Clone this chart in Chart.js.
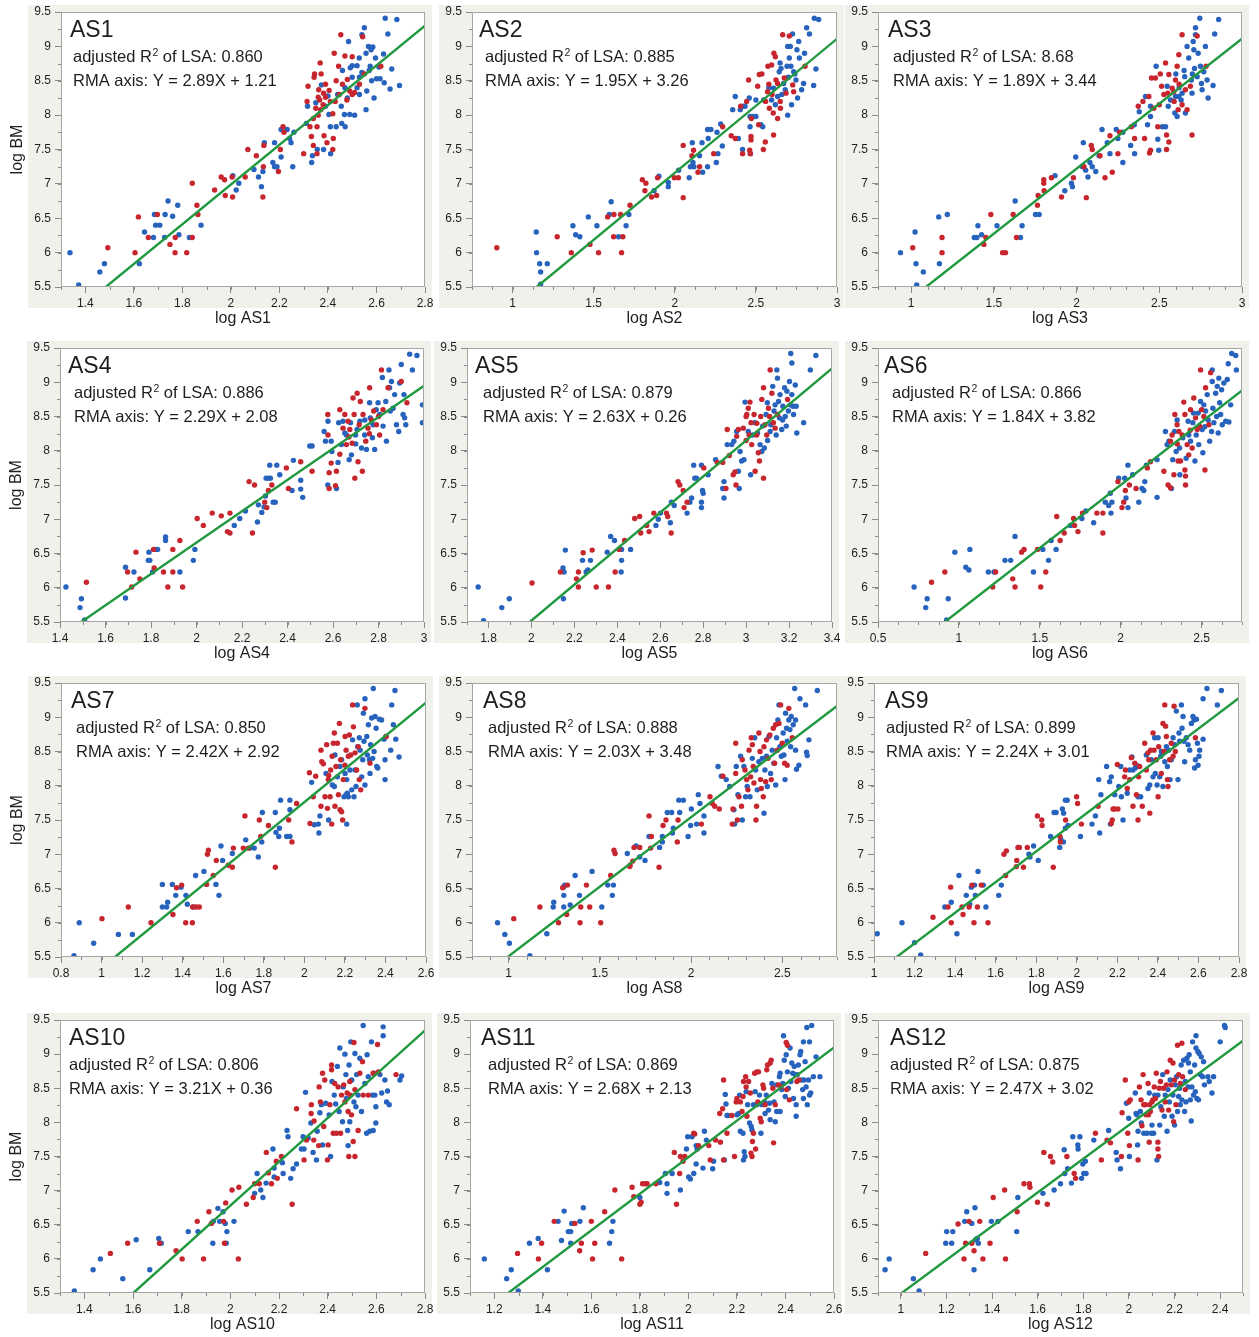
<!DOCTYPE html>
<html>
<head>
<meta charset="utf-8">
<script src="https://cdn.jsdelivr.net/npm/chart.js@4.4.1/dist/chart.umd.min.js"></script>
<title>log BM vs log AS1-AS12</title>
<style>
  body { margin: 0; background: #fff; }
  #page { position: relative; width: 1259px; height: 1337px; overflow: hidden; }
  #page canvas { position: absolute; }
</style>
</head>
<body>
<div id="page"></div>
<script>
// ---- data: [log AS, log BM] pairs, red and blue groups per panel ----
var as1Red = [[1.493,6.07],[1.605,6.0],[1.619,6.52],[1.66,6.22],[1.697,6.555],[1.749,6.12],[1.771,6.22],[1.77,6.0],[1.818,6.0],[1.841,6.22],[1.841,7.01],[1.86,6.69],[1.864,6.555],[1.933,6.91],[1.96,7.1],[1.974,7.06],[1.977,6.83],[2.007,6.81],[2.005,7.1],[2.059,7.1],[2.07,7.5],[2.105,7.41],[2.132,6.81],[2.134,7.25],[2.136,7.56],[2.196,7.18],[2.204,7.5],[2.215,7.83],[2.219,7.75],[2.3,7.44],[2.314,8.2],[2.318,8.42],[2.326,7.83],[2.332,7.69],[2.34,7.56],[2.34,7.95],[2.343,8.55],[2.345,8.6],[2.355,7.83],[2.355,7.44],[2.36,8.26],[2.362,8.37],[2.368,8.76],[2.37,8.08],[2.372,8.6],[2.366,8.22],[2.382,8.32],[2.384,7.7],[2.396,7.6],[2.39,8.26],[2.405,8.36],[2.422,7.66],[2.42,7.5],[2.434,8.5],[2.426,8.9],[2.444,8.71],[2.453,9.17],[2.447,8.3],[2.47,8.86],[2.48,8.52],[2.478,8.22],[2.5,8.3],[2.5,8.85],[2.51,8.33],[2.543,9.14],[2.55,8.6],[2.618,8.71],[2.35,8.1],[2.38,8.15],[2.41,8.2],[2.36,8.0],[2.39,8.45],[2.46,8.45],[2.43,8.2],[2.42,8.02],[2.49,8.35],[2.53,8.45]];
var as1Blue = [[1.337,6.0],[1.373,5.53],[1.46,5.72],[1.479,5.84],[1.623,5.84],[1.644,6.3],[1.681,6.22],[1.685,6.555],[1.69,6.4],[1.707,6.4],[1.727,6.22],[1.729,6.555],[1.741,6.75],[1.76,6.53],[1.781,6.69],[1.786,6.26],[1.829,6.22],[1.877,6.4],[2.008,7.12],[2.022,6.91],[2.033,7.01],[2.095,7.21],[2.114,7.1],[2.126,6.96],[2.132,7.18],[2.138,7.6],[2.173,7.31],[2.18,7.6],[2.18,7.25],[2.19,7.25],[2.207,7.39],[2.207,7.79],[2.232,7.79],[2.242,7.66],[2.248,7.6],[2.255,7.25],[2.26,7.75],[2.311,7.88],[2.316,8.13],[2.333,7.31],[2.336,7.41],[2.356,7.5],[2.35,8.18],[2.373,8.44],[2.382,7.5],[2.39,8.13],[2.404,8.01],[2.41,7.83],[2.411,7.44],[2.4,8.28],[2.434,7.83],[2.455,8.13],[2.457,7.88],[2.471,7.83],[2.468,8.01],[2.485,9.07],[2.492,8.69],[2.49,8.01],[2.5,8.72],[2.51,8.0],[2.52,8.72],[2.529,8.83],[2.53,8.55],[2.54,9.17],[2.55,9.27],[2.557,8.9],[2.557,8.08],[2.56,8.35],[2.567,9.0],[2.574,8.71],[2.578,8.95],[2.585,8.99],[2.59,8.25],[2.596,8.83],[2.6,8.53],[2.615,8.53],[2.629,8.89],[2.632,8.47],[2.636,9.41],[2.647,9.18],[2.656,8.38],[2.663,8.67],[2.684,9.39],[2.695,8.43],[2.47,8.4],[2.5,8.55],[2.52,8.4],[2.54,8.62],[2.58,8.5],[2.46,8.65],[2.44,8.3],[2.48,8.25],[2.53,8.3],[2.57,8.65],[2.61,8.7]];

var as2Red = [[0.903,6.07],[1.275,6.23],[1.362,6.0],[1.477,6.12],[1.53,6.0],[1.586,6.52],[1.625,6.555],[1.623,6.23],[1.666,6.555],[1.672,6.0],[1.68,6.23],[1.724,6.69],[1.8,7.06],[1.816,6.9],[1.822,7.01],[1.857,6.81],[1.888,6.83],[1.894,7.09],[1.997,7.09],[2.022,7.09],[2.052,6.8],[2.052,7.56],[2.106,7.41],[2.116,7.49],[2.143,7.17],[2.153,7.25],[2.24,7.44],[2.295,7.83],[2.348,7.7],[2.373,7.66],[2.406,8.13],[2.418,7.44],[2.443,8.2],[2.455,8.51],[2.472,7.95],[2.47,7.69],[2.47,7.64],[2.462,7.49],[2.466,7.44],[2.511,8.42],[2.517,7.86],[2.521,8.59],[2.537,8.6],[2.546,7.5],[2.558,7.61],[2.572,8.34],[2.574,8.71],[2.583,8.1],[2.597,8.73],[2.607,8.03],[2.609,7.71],[2.611,8.9],[2.62,8.85],[2.624,8.51],[2.634,8.46],[2.634,7.95],[2.651,8.1],[2.665,9.17],[2.675,8.54],[2.686,8.32],[2.706,9.15],[2.727,8.44],[2.733,8.34],[2.803,8.71],[2.6,8.3],[2.58,8.45],[2.65,8.2],[2.56,8.2]];
var as2Blue = [[1.146,6.3],[1.148,6.0],[1.167,5.84],[1.173,5.72],[1.214,5.84],[1.173,5.54],[1.372,6.39],[1.389,6.26],[1.415,6.23],[1.467,6.52],[1.52,6.39],[1.608,6.74],[1.596,6.555],[1.654,6.23],[1.7,6.39],[1.717,6.555],[1.872,6.9],[1.902,7.11],[1.96,7.02],[1.96,6.96],[2.024,7.2],[2.089,7.09],[2.096,7.25],[2.108,7.6],[2.112,7.31],[2.118,7.25],[2.153,7.41],[2.172,7.17],[2.168,7.6],[2.202,7.25],[2.206,7.66],[2.202,7.79],[2.223,7.79],[2.256,7.31],[2.266,7.44],[2.26,7.75],[2.283,7.87],[2.293,7.55],[2.357,8.08],[2.373,8.27],[2.392,7.66],[2.404,8.08],[2.422,8.13],[2.433,8.13],[2.418,7.5],[2.459,8.25],[2.464,7.98],[2.464,7.83],[2.466,7.44],[2.478,7.98],[2.5,7.98],[2.5,8.22],[2.531,7.86],[2.542,7.83],[2.548,8.22],[2.597,8.22],[2.609,8.39],[2.634,8.27],[2.644,8.63],[2.649,8.76],[2.655,8.68],[2.671,8.46],[2.681,8.37],[2.692,8.71],[2.696,8.0],[2.696,9.0],[2.712,9.0],[2.706,8.83],[2.716,8.71],[2.72,8.15],[2.733,8.63],[2.726,9.18],[2.747,8.51],[2.753,8.95],[2.757,8.25],[2.764,9.07],[2.768,8.83],[2.782,8.37],[2.8,8.9],[2.794,8.46],[2.813,9.27],[2.83,9.18],[2.856,8.43],[2.86,9.41],[2.87,8.67],[2.887,9.39],[2.62,8.15],[2.66,8.3],[2.74,8.6],[2.7,8.55],[2.58,8.4]];

var as3Red = [[1.01,6.07],[1.187,6.22],[1.187,6.0],[1.44,6.12],[1.452,6.22],[1.482,6.555],[1.553,6.0],[1.571,6.0],[1.617,6.555],[1.637,6.22],[1.764,6.69],[1.768,6.83],[1.802,7.06],[1.802,7.01],[1.804,6.9],[1.848,7.09],[1.909,6.81],[1.981,7.09],[2.045,7.25],[2.059,6.8],[2.089,7.56],[2.095,7.5],[2.142,7.41],[2.172,7.09],[2.202,7.7],[2.216,7.17],[2.25,7.44],[2.26,7.75],[2.331,7.83],[2.351,7.66],[2.373,8.13],[2.401,8.2],[2.411,7.66],[2.441,7.45],[2.447,7.49],[2.437,8.27],[2.453,8.54],[2.467,8.1],[2.477,8.54],[2.491,7.83],[2.506,8.6],[2.514,8.42],[2.528,8.3],[2.538,8.76],[2.544,7.71],[2.544,7.5],[2.552,8.32],[2.558,8.59],[2.558,7.61],[2.578,8.39],[2.588,8.34],[2.608,8.71],[2.598,8.51],[2.614,8.08],[2.618,8.88],[2.638,9.17],[2.638,8.15],[2.658,8.37],[2.668,8.08],[2.688,8.42],[2.698,7.71],[2.729,9.15],[2.783,8.71],[2.59,8.2],[2.62,8.45],[2.5,8.15]];
var as3Blue = [[0.936,6.0],[1.024,6.3],[1.03,5.84],[1.034,5.53],[1.074,5.72],[1.167,6.52],[1.171,5.84],[1.219,6.555],[1.382,6.22],[1.398,6.22],[1.404,6.39],[1.426,6.26],[1.519,6.39],[1.629,6.75],[1.661,6.22],[1.671,6.39],[1.752,6.555],[1.774,6.555],[1.87,7.12],[1.929,6.9],[1.969,7.01],[1.975,6.96],[1.995,7.39],[2.035,7.25],[2.041,7.6],[2.055,7.2],[2.069,7.1],[2.081,7.31],[2.095,7.25],[2.116,7.18],[2.136,7.41],[2.154,7.79],[2.186,7.6],[2.202,7.44],[2.24,7.79],[2.25,7.66],[2.28,7.31],[2.28,7.75],[2.327,7.56],[2.351,7.44],[2.349,7.86],[2.379,8.05],[2.417,8.27],[2.429,7.86],[2.447,7.98],[2.447,8.13],[2.481,8.71],[2.491,7.65],[2.497,7.49],[2.518,7.83],[2.538,7.83],[2.548,8.42],[2.554,8.13],[2.568,8.22],[2.594,8.03],[2.598,8.27],[2.608,7.98],[2.618,8.27],[2.632,8.22],[2.638,8.32],[2.654,8.56],[2.658,8.03],[2.668,9.0],[2.678,8.83],[2.694,8.51],[2.698,8.32],[2.705,9.07],[2.709,8.95],[2.713,8.68],[2.719,9.27],[2.719,9.17],[2.729,8.56],[2.735,8.9],[2.745,9.41],[2.749,8.71],[2.755,8.46],[2.759,8.37],[2.769,8.63],[2.779,9.0],[2.789,8.51],[2.795,8.25],[2.825,8.43],[2.835,9.18],[2.859,9.39],[2.6,8.6],[2.65,8.65],[2.7,8.6],[2.62,8.4]];

var as4Red = [[1.516,6.08],[1.697,6.23],[1.715,6.01],[1.734,6.52],[1.751,6.13],[1.814,6.29],[1.811,6.56],[1.855,6.23],[1.874,6.01],[1.896,6.56],[1.896,6.23],[1.927,6.69],[1.939,6.01],[2.003,7.01],[2.03,6.91],[2.069,7.09],[2.109,7.05],[2.147,7.09],[2.136,6.82],[2.147,6.8],[2.231,7.55],[2.246,6.8],[2.255,7.5],[2.3,7.25],[2.309,7.17],[2.316,7.42],[2.331,7.5],[2.395,7.75],[2.404,7.45],[2.458,7.84],[2.508,7.7],[2.577,8.53],[2.578,8.23],[2.583,7.68],[2.583,7.45],[2.592,7.82],[2.611,7.49],[2.615,7.7],[2.63,8.6],[2.63,7.95],[2.644,8.33],[2.652,8.53],[2.659,8.09],[2.666,8.43],[2.674,8.31],[2.684,8.11],[2.688,8.77],[2.693,8.53],[2.696,7.6],[2.706,8.84],[2.71,7.84],[2.715,8.38],[2.72,8.72],[2.729,7.7],[2.732,8.53],[2.744,8.14],[2.754,8.33],[2.761,8.92],[2.769,8.45],[2.779,8.58],[2.791,8.38],[2.805,8.23],[2.813,9.18],[2.82,8.6],[2.842,8.92],[2.9,9.01],[2.925,8.7],[2.67,8.2],[2.76,8.25],[2.8,8.5]];
var as4Blue = [[1.426,6.01],[1.488,5.71],[1.494,5.84],[1.508,5.53],[1.688,6.3],[1.688,5.85],[1.725,6.23],[1.788,6.4],[1.791,6.52],[1.795,6.4],[1.807,6.23],[1.82,6.56],[1.829,6.56],[1.864,6.74],[1.864,6.69],[1.927,6.23],[1.986,6.4],[1.993,6.56],[2.166,6.91],[2.19,7.01],[2.215,7.12],[2.268,6.96],[2.272,7.21],[2.287,7.1],[2.297,7.18],[2.303,7.34],[2.306,7.6],[2.316,7.6],[2.322,7.79],[2.325,7.6],[2.337,7.25],[2.346,7.25],[2.353,7.79],[2.366,7.65],[2.42,7.42],[2.426,7.86],[2.458,7.57],[2.458,7.44],[2.467,7.32],[2.498,8.07],[2.508,8.07],[2.561,8.28],[2.567,8.14],[2.577,7.5],[2.578,8.43],[2.595,7.99],[2.592,8.14],[2.615,7.45],[2.622,7.83],[2.625,8.41],[2.637,8.09],[2.644,8.43],[2.652,8.26],[2.659,8.23],[2.671,7.87],[2.677,8.41],[2.681,7.94],[2.699,8.23],[2.706,8.31],[2.718,8.43],[2.725,8.04],[2.739,8.23],[2.747,8.02],[2.761,8.7],[2.764,8.48],[2.773,8.19],[2.776,8.38],[2.783,8.02],[2.798,8.7],[2.805,8.53],[2.817,9.07],[2.82,8.36],[2.832,8.72],[2.835,8.14],[2.846,9.18],[2.849,8.92],[2.852,8.58],[2.857,9.01],[2.864,8.62],[2.871,8.82],[2.879,8.38],[2.889,8.28],[2.893,8.99],[2.9,9.26],[2.908,8.53],[2.912,8.82],[2.915,8.48],[2.92,8.38],[2.937,9.41],[2.949,9.18],[2.969,9.39],[2.993,8.67],[2.993,8.41],[2.7,8.1],[2.74,8.45],[2.79,8.6]];

var as5Red = [[2.003,6.07],[2.135,6.23],[2.21,6.13],[2.219,6.01],[2.219,6.23],[2.241,6.51],[2.283,6.55],[2.302,6.01],[2.359,6.01],[2.39,6.23],[2.408,6.56],[2.434,6.69],[2.481,7.01],[2.504,7.04],[2.509,6.8],[2.537,6.91],[2.548,6.82],[2.57,7.09],[2.629,7.09],[2.635,7.04],[2.651,6.8],[2.683,7.55],[2.691,7.5],[2.707,7.42],[2.711,7.17],[2.725,7.25],[2.803,7.75],[2.866,7.83],[2.891,7.83],[2.906,7.45],[2.912,8.31],[2.922,7.93],[2.94,7.65],[2.948,7.69],[2.953,7.5],[2.956,8.21],[2.964,8.31],[2.987,8.33],[3.0,8.5],[3.003,8.53],[3.01,8.62],[3.014,8.23],[3.018,8.71],[3.023,8.41],[3.026,8.09],[3.037,8.53],[3.042,7.7],[3.049,8.23],[3.057,7.97],[3.062,7.85],[3.068,8.5],[3.073,8.75],[3.081,8.92],[3.081,7.6],[3.088,8.38],[3.096,8.23],[3.104,8.62],[3.109,8.5],[3.112,9.18],[3.12,8.84],[3.127,8.41],[3.135,8.33],[3.146,8.53],[3.193,8.75],[3.0,8.15],[3.05,8.4]];
var as5Blue = [[1.752,6.01],[1.777,5.52],[1.862,5.71],[1.897,5.84],[2.147,6.29],[2.152,6.23],[2.149,5.84],[2.158,6.55],[2.238,6.4],[2.255,6.23],[2.263,6.26],[2.275,6.4],[2.353,6.52],[2.369,6.75],[2.387,6.69],[2.42,6.56],[2.42,6.4],[2.418,6.23],[2.462,6.56],[2.58,6.91],[2.591,7.0],[2.601,7.09],[2.647,6.95],[2.652,7.25],[2.665,7.2],[2.725,7.09],[2.738,7.25],[2.746,7.31],[2.756,7.79],[2.761,7.6],[2.769,7.6],[2.792,7.79],[2.792,7.25],[2.792,7.17],[2.797,7.42],[2.8,7.38],[2.823,7.65],[2.858,7.87],[2.891,7.45],[2.897,7.55],[2.897,7.31],[2.912,8.09],[2.933,8.09],[2.943,8.14],[2.956,8.28],[2.964,7.7],[2.968,7.45],[2.972,7.99],[2.979,7.85],[2.99,7.87],[2.995,8.71],[3.01,8.28],[3.021,7.65],[3.031,8.23],[3.042,8.41],[3.053,8.26],[3.065,8.09],[3.073,7.99],[3.077,8.36],[3.085,8.04],[3.093,8.53],[3.099,8.7],[3.112,8.28],[3.115,8.38],[3.124,8.94],[3.13,8.58],[3.135,8.67],[3.14,8.23],[3.143,9.18],[3.146,9.06],[3.151,8.72],[3.155,8.48],[3.158,8.82],[3.166,8.31],[3.171,8.65],[3.179,8.92],[3.182,8.5],[3.187,8.36],[3.19,8.87],[3.197,8.58],[3.202,9.01],[3.205,8.67],[3.208,9.42],[3.213,9.28],[3.213,8.82],[3.218,8.65],[3.221,8.53],[3.229,8.96],[3.233,8.65],[3.236,8.26],[3.268,8.41],[3.299,9.18],[3.325,9.39],[3.1,8.15],[3.17,8.45]];

var as6Red = [[0.831,6.08],[0.913,6.23],[1.209,6.01],[1.227,6.23],[1.333,6.13],[1.347,6.01],[1.388,6.52],[1.403,6.56],[1.486,6.56],[1.506,6.01],[1.537,6.23],[1.605,7.04],[1.626,6.69],[1.651,6.8],[1.709,7.01],[1.715,6.91],[1.736,6.82],[1.764,7.09],[1.853,7.09],[1.89,7.09],[1.89,6.8],[1.983,7.55],[2.008,7.17],[2.019,7.25],[2.029,7.42],[2.054,7.5],[2.095,7.45],[2.165,7.75],[2.184,7.84],[2.267,7.7],[2.293,7.5],[2.308,7.46],[2.308,8.14],[2.318,8.23],[2.329,7.65],[2.335,8.53],[2.349,8.38],[2.355,7.85],[2.36,8.28],[2.37,7.85],[2.38,8.23],[2.39,8.71],[2.397,7.72],[2.401,7.5],[2.401,7.63],[2.397,8.53],[2.411,8.09],[2.421,7.94],[2.432,8.6],[2.442,8.04],[2.452,8.77],[2.463,8.48],[2.473,8.31],[2.488,8.36],[2.494,9.18],[2.5,8.6],[2.514,8.5],[2.521,7.72],[2.525,8.92],[2.545,8.38],[2.556,9.14],[2.43,8.3],[2.35,8.1]];
var as6Blue = [[0.723,6.01],[0.795,5.71],[0.804,5.84],[0.924,5.53],[0.934,5.84],[0.975,6.52],[1.043,6.3],[1.062,6.26],[1.068,6.56],[1.182,6.23],[1.217,6.23],[1.285,6.4],[1.32,6.4],[1.347,6.75],[1.461,6.23],[1.519,6.56],[1.554,6.4],[1.57,6.69],[1.601,6.56],[1.69,6.91],[1.76,7.01],[1.785,7.12],[1.833,6.95],[1.905,7.25],[1.926,7.2],[1.936,7.38],[1.946,7.25],[1.94,7.09],[1.988,7.6],[2.025,7.6],[2.033,7.31],[2.045,7.79],[2.045,7.17],[2.074,7.65],[2.112,7.25],[2.132,7.45],[2.143,7.42],[2.149,7.55],[2.159,7.79],[2.225,7.32],[2.225,7.87],[2.277,8.28],[2.287,8.09],[2.298,8.14],[2.314,7.45],[2.322,7.87],[2.333,8.28],[2.343,7.99],[2.349,8.45],[2.364,8.04],[2.366,7.65],[2.384,8.19],[2.405,7.89],[2.417,8.43],[2.421,8.23],[2.432,8.14],[2.446,8.41],[2.459,7.85],[2.467,8.23],[2.479,8.55],[2.483,8.09],[2.494,8.72],[2.504,8.31],[2.508,7.97],[2.514,8.67],[2.525,8.58],[2.535,8.82],[2.541,8.45],[2.55,8.14],[2.562,8.28],[2.566,9.18],[2.566,9.01],[2.57,8.62],[2.576,8.41],[2.587,8.84],[2.593,8.5],[2.597,8.94],[2.603,8.26],[2.607,9.06],[2.612,8.7],[2.618,8.53],[2.624,8.89],[2.628,8.38],[2.638,8.99],[2.649,8.43],[2.659,9.04],[2.669,8.42],[2.68,8.67],[2.665,9.27],[2.686,9.42],[2.711,9.39],[2.715,9.18],[2.45,8.55],[2.52,8.35]];

var as7Red = [[1.002,6.06],[1.132,6.23],[1.244,6.0],[1.352,6.12],[1.37,6.51],[1.395,6.55],[1.415,6.0],[1.448,6.0],[1.449,6.23],[1.466,6.23],[1.482,6.23],[1.518,6.56],[1.522,7.0],[1.527,7.06],[1.551,6.69],[1.566,6.91],[1.625,6.84],[1.645,6.81],[1.65,7.09],[1.699,7.09],[1.707,7.56],[1.724,7.09],[1.778,7.5],[1.785,7.26],[1.823,7.42],[1.857,6.81],[1.923,7.5],[1.939,7.18],[1.962,7.74],[2.025,8.19],[2.028,7.45],[2.044,7.84],[2.056,8.14],[2.082,7.7],[2.082,8.52],[2.086,8.35],[2.094,8.32],[2.102,7.84],[2.11,8.6],[2.114,7.67],[2.118,8.09],[2.127,7.84],[2.13,8.23],[2.135,7.44],[2.137,8.43],[2.143,8.62],[2.148,8.77],[2.151,7.7],[2.156,8.28],[2.163,8.62],[2.168,7.87],[2.173,8.91],[2.176,7.65],[2.179,8.38],[2.184,7.62],[2.189,7.5],[2.192,8.09],[2.201,8.72],[2.206,8.52],[2.217,8.43],[2.222,8.74],[2.229,8.45],[2.238,9.18],[2.242,8.86],[2.25,8.48],[2.258,8.23],[2.266,8.57],[2.271,8.09],[2.278,7.94],[2.299,9.13],[2.324,8.33],[2.403,8.72],[2.2,8.3],[2.12,8.15]];
var as7Blue = [[0.864,5.52],[0.89,6.0],[0.961,5.7],[1.083,5.83],[1.152,5.83],[1.3,6.56],[1.3,6.23],[1.326,6.3],[1.321,6.23],[1.349,6.56],[1.366,6.4],[1.392,6.52],[1.416,6.4],[1.423,6.27],[1.453,6.23],[1.464,6.69],[1.505,6.75],[1.564,6.56],[1.579,6.4],[1.589,7.12],[1.597,6.91],[1.645,7.01],[1.711,7.21],[1.732,7.09],[1.753,7.09],[1.773,6.96],[1.79,7.18],[1.793,7.61],[1.857,7.61],[1.86,7.32],[1.874,7.26],[1.877,7.38],[1.883,7.79],[1.913,7.26],[1.929,7.26],[1.929,7.79],[1.929,7.65],[2.036,8.05],[2.049,7.43],[2.072,7.31],[2.069,7.44],[2.077,7.56],[2.107,8.18],[2.12,7.5],[2.138,8.01],[2.148,7.99],[2.151,8.45],[2.163,8.13],[2.176,8.28],[2.184,8.38],[2.196,7.84],[2.201,8.18],[2.206,7.87],[2.209,8.09],[2.212,7.89],[2.217,7.84],[2.209,7.44],[2.225,8.23],[2.234,7.94],[2.238,8.67],[2.245,7.84],[2.25,8.23],[2.255,7.99],[2.261,9.18],[2.263,8.57],[2.271,8.7],[2.275,8.52],[2.283,8.13],[2.288,8.38],[2.291,9.06],[2.294,8.65],[2.299,8.01],[2.299,9.27],[2.308,8.72],[2.311,8.45],[2.316,8.89],[2.321,8.38],[2.324,8.18],[2.327,8.6],[2.332,8.99],[2.337,8.4],[2.34,9.42],[2.344,8.5],[2.349,9.01],[2.354,8.84],[2.357,8.28],[2.362,8.26],[2.37,8.97],[2.381,8.96],[2.393,8.68],[2.398,8.38],[2.403,8.72],[2.398,8.09],[2.426,8.52],[2.431,9.18],[2.439,8.89],[2.447,9.39],[2.451,8.68],[2.467,8.42]];

var as8Red = [[1.029,6.06],[1.172,6.23],[1.274,6.0],[1.297,6.51],[1.323,6.55],[1.319,6.12],[1.392,6.0],[1.396,6.23],[1.427,6.55],[1.445,6.23],[1.505,6.0],[1.56,6.69],[1.578,7.06],[1.584,7.01],[1.664,6.82],[1.666,6.84],[1.681,6.9],[1.688,7.1],[1.719,7.1],[1.77,7.56],[1.783,7.26],[1.779,7.09],[1.825,6.81],[1.847,7.42],[1.863,7.5],[1.925,7.18],[1.929,7.5],[2.057,7.44],[2.104,7.84],[2.117,7.74],[2.13,7.7],[2.155,7.66],[2.175,8.14],[2.226,7.44],[2.23,7.66],[2.245,8.62],[2.245,8.18],[2.254,7.5],[2.263,7.84],[2.277,7.7],[2.281,8.38],[2.296,8.23],[2.305,8.09],[2.312,7.94],[2.318,8.52],[2.327,8.13],[2.33,8.7],[2.336,8.6],[2.341,8.28],[2.345,8.04],[2.356,7.5],[2.359,7.7],[2.372,8.77],[2.378,8.5],[2.381,8.09],[2.385,7.96],[2.396,7.84],[2.4,8.57],[2.409,8.06],[2.414,8.67],[2.422,8.4],[2.432,8.74],[2.44,8.09],[2.451,8.84],[2.458,8.33],[2.464,8.89],[2.473,8.52],[2.482,8.91],[2.491,9.18],[2.5,8.62],[2.513,8.33],[2.527,8.3],[2.536,9.13],[2.555,8.7]];
var as8Blue = [[0.94,6.0],[0.98,5.83],[1.005,5.7],[1.117,5.52],[1.21,5.84],[1.245,6.23],[1.248,6.3],[1.303,6.23],[1.303,6.4],[1.301,6.52],[1.308,6.55],[1.338,6.26],[1.365,6.69],[1.389,6.4],[1.458,6.75],[1.511,6.23],[1.544,6.55],[1.569,6.4],[1.575,6.55],[1.651,7.01],[1.699,7.12],[1.719,6.96],[1.748,6.91],[1.77,7.26],[1.828,7.1],[1.843,7.18],[1.843,7.26],[1.87,7.61],[1.894,7.61],[1.898,7.31],[1.903,7.38],[1.938,7.61],[1.933,7.79],[1.958,7.79],[1.984,7.26],[1.998,7.42],[2.002,7.66],[2.031,7.44],[2.04,7.87],[2.071,7.56],[2.071,7.31],[2.049,7.74],[2.148,8.28],[2.166,8.14],[2.193,8.09],[2.212,7.99],[2.239,7.44],[2.235,7.65],[2.248,8.28],[2.257,7.87],[2.272,8.43],[2.281,7.5],[2.29,8.28],[2.299,7.84],[2.308,7.99],[2.323,7.84],[2.336,8.4],[2.349,8.7],[2.354,8.23],[2.363,7.94],[2.372,8.35],[2.391,8.4],[2.4,7.6],[2.405,8.23],[2.414,8.43],[2.418,7.99],[2.427,8.72],[2.436,8.18],[2.445,8.52],[2.454,8.33],[2.464,8.01],[2.469,8.7],[2.476,8.96],[2.482,9.18],[2.487,8.57],[2.495,8.43],[2.505,8.77],[2.509,8.45],[2.515,8.09],[2.518,9.06],[2.524,8.84],[2.527,8.65],[2.536,8.96],[2.542,8.82],[2.546,8.57],[2.549,9.01],[2.56,8.89],[2.568,9.42],[2.573,8.96],[2.573,8.52],[2.578,8.24],[2.591,8.3],[2.597,9.27],[2.628,9.18],[2.633,8.49],[2.637,8.44],[2.646,8.67],[2.692,9.39]];

var as9Red = [[1.291,6.08],[1.365,6.23],[1.378,6.52],[1.381,6.0],[1.434,6.23],[1.439,6.12],[1.469,6.23],[1.483,6.55],[1.493,6.0],[1.51,6.23],[1.529,6.55],[1.562,6.0],[1.649,6.69],[1.641,7.0],[1.653,7.05],[1.704,6.91],[1.71,7.1],[1.717,7.1],[1.702,6.82],[1.737,6.81],[1.756,7.1],[1.806,7.56],[1.827,7.5],[1.829,7.42],[1.884,6.81],[1.917,7.26],[1.919,7.18],[1.945,7.5],[1.999,7.84],[2.004,7.74],[2.023,7.44],[2.105,7.7],[2.17,7.45],[2.175,7.5],[2.179,7.66],[2.187,7.66],[2.2,8.31],[2.203,7.66],[2.236,8.13],[2.24,8.23],[2.249,7.96],[2.261,8.09],[2.269,8.41],[2.277,7.7],[2.286,8.33],[2.294,7.87],[2.302,7.5],[2.305,8.13],[2.31,8.28],[2.323,7.7],[2.335,8.62],[2.343,8.23],[2.351,8.48],[2.355,8.38],[2.36,7.6],[2.364,8.52],[2.376,8.77],[2.381,8.52],[2.392,8.38],[2.401,7.84],[2.404,8.57],[2.417,8.18],[2.425,8.91],[2.43,8.5],[2.434,9.18],[2.438,8.87],[2.442,8.72],[2.447,8.09],[2.45,7.99],[2.458,8.38],[2.466,8.62],[2.475,8.43],[2.48,9.16],[2.486,8.5],[2.585,8.7]];
var as9Blue = [[1.016,5.84],[1.138,6.0],[1.2,5.71],[1.23,5.53],[1.349,6.23],[1.381,6.3],[1.409,5.84],[1.419,6.69],[1.455,6.4],[1.472,6.27],[1.48,6.52],[1.496,6.55],[1.5,6.4],[1.513,6.75],[1.539,6.55],[1.552,6.23],[1.615,6.4],[1.628,6.55],[1.764,7.0],[1.769,6.96],[1.787,7.12],[1.81,6.91],[1.871,7.26],[1.888,7.61],[1.898,7.61],[1.916,7.1],[1.921,7.22],[1.934,7.18],[1.929,7.66],[1.935,7.6],[1.944,7.79],[1.953,7.79],[1.944,7.38],[1.957,7.42],[2.018,7.26],[2.075,7.44],[2.092,7.56],[2.113,7.31],[2.108,8.09],[2.119,7.87],[2.166,7.44],[2.147,8.28],[2.162,8.06],[2.17,8.13],[2.187,7.87],[2.207,7.99],[2.217,8.28],[2.22,7.84],[2.228,7.5],[2.249,7.89],[2.261,8.23],[2.272,8.42],[2.277,8.23],[2.289,8.26],[2.294,8.3],[2.302,7.84],[2.315,7.84],[2.343,8.45],[2.351,7.96],[2.36,8.01],[2.368,8.38],[2.376,8.13],[2.384,8.7],[2.387,8.18],[2.396,8.01],[2.401,8.7],[2.409,8.13],[2.414,8.43],[2.417,8.5],[2.425,7.99],[2.434,8.35],[2.442,8.57],[2.447,8.28],[2.453,8.52],[2.46,8.09],[2.466,8.38],[2.475,8.7],[2.483,8.6],[2.491,9.09],[2.499,8.09],[2.504,8.77],[2.507,8.65],[2.516,9.18],[2.519,8.84],[2.524,9.01],[2.529,8.65],[2.532,8.35],[2.54,8.7],[2.549,8.6],[2.557,8.52],[2.565,8.91],[2.573,9.01],[2.578,8.96],[2.581,8.26],[2.585,8.38],[2.59,8.97],[2.595,8.62],[2.598,8.3],[2.603,8.43],[2.606,8.52],[2.623,9.27],[2.623,8.68],[2.642,9.42],[2.693,9.18],[2.713,9.39]];

var as10Red = [[1.507,6.08],[1.578,6.23],[1.709,6.23],[1.777,6.12],[1.802,6.0],[1.864,6.55],[1.89,6.0],[1.912,6.69],[1.922,6.52],[1.972,6.55],[1.976,6.23],[1.981,6.82],[2.007,7.01],[2.035,7.05],[2.033,6.0],[2.066,6.8],[2.094,6.9],[2.1,7.1],[2.119,7.1],[2.148,7.56],[2.156,7.26],[2.169,7.1],[2.189,7.43],[2.193,7.18],[2.21,7.5],[2.254,6.8],[2.272,8.2],[2.303,7.45],[2.313,7.74],[2.333,8.26],[2.332,8.13],[2.344,8.02],[2.343,7.74],[2.363,7.66],[2.365,8.52],[2.37,8.3],[2.379,8.72],[2.384,7.94],[2.388,8.62],[2.399,7.45],[2.402,7.67],[2.409,8.26],[2.416,8.84],[2.416,8.77],[2.423,7.84],[2.429,8.57],[2.436,7.84],[2.443,8.52],[2.453,7.84],[2.457,8.4],[2.466,8.55],[2.471,8.3],[2.48,8.43],[2.484,8.16],[2.487,7.5],[2.491,8.6],[2.494,8.4],[2.498,8.11],[2.505,7.72],[2.508,9.17],[2.512,8.48],[2.512,7.5],[2.525,7.88],[2.532,8.72],[2.543,8.89],[2.546,8.4],[2.567,8.4],[2.587,8.72],[2.605,9.14],[2.608,8.74],[2.681,8.7]];
var as10Blue = [[1.359,5.53],[1.436,5.84],[1.466,6.0],[1.558,5.71],[1.613,6.28],[1.669,5.84],[1.706,6.3],[1.716,6.23],[1.827,6.4],[1.867,6.4],[1.928,6.23],[1.93,6.55],[1.949,6.74],[1.956,6.55],[1.97,6.69],[1.979,6.52],[1.983,6.23],[1.986,6.4],[2.015,6.55],[2.1,6.96],[2.11,7.25],[2.125,7.01],[2.134,6.9],[2.147,7.11],[2.175,7.61],[2.18,7.33],[2.18,7.2],[2.214,7.41],[2.217,7.25],[2.233,7.88],[2.237,7.79],[2.248,7.18],[2.258,7.32],[2.272,7.39],[2.292,7.61],[2.299,7.79],[2.303,7.61],[2.309,8.44],[2.32,7.77],[2.331,7.99],[2.34,7.56],[2.354,7.45],[2.357,7.87],[2.368,8.14],[2.374,8.26],[2.379,7.67],[2.392,8.28],[2.406,8.11],[2.412,7.5],[2.418,8.6],[2.427,8.4],[2.433,8.27],[2.44,8.82],[2.447,8.16],[2.45,9.09],[2.461,8.01],[2.464,8.52],[2.471,9.0],[2.475,8.7],[2.477,8.35],[2.482,7.88],[2.484,7.66],[2.488,8.84],[2.491,8.01],[2.495,9.18],[2.499,8.62],[2.508,8.3],[2.512,9.01],[2.516,8.23],[2.519,8.7],[2.525,8.4],[2.532,8.94],[2.539,8.16],[2.546,9.42],[2.553,8.57],[2.56,7.84],[2.562,8.99],[2.567,8.67],[2.573,7.87],[2.58,9.18],[2.584,8.4],[2.587,7.88],[2.59,8.72],[2.594,8.4],[2.598,8.23],[2.598,7.99],[2.615,8.7],[2.622,8.43],[2.628,9.4],[2.628,9.27],[2.635,8.62],[2.642,8.3],[2.646,8.46],[2.653,8.26],[2.697,8.62],[2.704,8.68]];

var as11Red = [[1.296,6.08],[1.382,6.0],[1.395,6.23],[1.447,6.55],[1.532,6.52],[1.552,6.12],[1.559,6.23],[1.6,6.55],[1.605,6.0],[1.614,6.23],[1.655,6.69],[1.697,7.01],[1.725,6.0],[1.768,7.05],[1.775,6.91],[1.8,6.8],[1.805,6.83],[1.811,7.1],[1.823,7.1],[1.83,7.1],[1.866,7.1],[1.942,7.56],[1.951,6.8],[1.964,7.25],[1.967,7.5],[1.978,7.43],[1.985,7.5],[2.022,7.84],[2.026,7.83],[2.042,7.66],[2.084,7.66],[2.09,7.45],[2.112,7.74],[2.132,7.71],[2.129,8.13],[2.145,8.62],[2.145,7.45],[2.141,8.2],[2.159,7.84],[2.179,8.1],[2.19,7.5],[2.197,8.3],[2.2,8.35],[2.214,8.3],[2.221,8.16],[2.225,8.38],[2.227,8.6],[2.236,8.67],[2.238,8.52],[2.241,8.09],[2.248,8.6],[2.255,8.43],[2.258,7.55],[2.262,7.5],[2.264,7.72],[2.268,7.84],[2.273,8.72],[2.277,7.61],[2.282,8.74],[2.286,8.3],[2.289,8.74],[2.296,8.06],[2.3,8.01],[2.307,8.55],[2.31,8.5],[2.316,8.26],[2.323,8.77],[2.326,8.84],[2.337,8.87],[2.341,8.91],[2.348,8.5],[2.351,7.7],[2.358,8.26],[2.371,8.55],[2.381,8.52],[2.403,9.17],[2.408,9.13],[2.405,8.48],[2.416,8.33],[2.447,8.6],[2.455,8.62]];
var as11Blue = [[1.159,6.0],[1.251,5.71],[1.27,5.84],[1.299,5.53],[1.345,6.23],[1.381,6.3],[1.419,5.84],[1.463,6.55],[1.477,6.27],[1.488,6.7],[1.505,6.4],[1.515,6.4],[1.515,6.23],[1.519,6.52],[1.553,6.55],[1.567,6.75],[1.675,6.23],[1.684,6.4],[1.689,6.55],[1.8,6.9],[1.882,7.12],[1.905,7.25],[1.912,7.1],[1.912,6.96],[1.933,7.25],[1.967,7.01],[1.992,7.61],[1.997,7.79],[2.001,7.2],[2.008,7.17],[2.015,7.79],[2.022,7.25],[2.032,7.39],[2.032,7.66],[2.036,7.61],[2.06,7.33],[2.066,7.87],[2.074,7.74],[2.1,7.32],[2.104,7.43],[2.148,7.45],[2.152,8.41],[2.155,8.27],[2.159,8.1],[2.163,8.1],[2.2,8.11],[2.207,8.13],[2.211,8.4],[2.214,7.87],[2.225,7.84],[2.227,7.45],[2.23,7.57],[2.233,7.5],[2.238,8.45],[2.244,8.26],[2.252,7.99],[2.259,7.94],[2.262,7.89],[2.268,8.26],[2.275,8.45],[2.282,8.26],[2.293,8.4],[2.299,7.84],[2.303,8.26],[2.314,8.3],[2.316,8.13],[2.321,8.4],[2.33,8.18],[2.334,8.28],[2.337,8.04],[2.344,8.57],[2.353,8.3],[2.358,8.01],[2.364,8.55],[2.364,8.16],[2.375,8.67],[2.378,8.16],[2.378,8.72],[2.385,8.48],[2.389,8.57],[2.392,9.27],[2.395,8.91],[2.399,8.38],[2.403,8.99],[2.408,8.74],[2.412,8.5],[2.419,9.09],[2.422,8.6],[2.426,8.87],[2.43,8.72],[2.433,8.35],[2.436,8.82],[2.44,8.7],[2.444,8.09],[2.444,8.26],[2.449,8.7],[2.453,8.84],[2.46,8.99],[2.463,9.04],[2.467,8.62],[2.471,8.48],[2.474,9.18],[2.474,8.35],[2.477,8.62],[2.481,8.89],[2.485,8.52],[2.488,9.39],[2.49,8.26],[2.495,8.62],[2.499,9.18],[2.499,8.4],[2.504,8.43],[2.508,9.42],[2.515,8.67],[2.526,8.96],[2.542,8.67]];

var as12Red = [[1.109,6.08],[1.251,6.51],[1.277,6.0],[1.284,6.23],[1.299,6.55],[1.311,6.23],[1.321,6.12],[1.346,6.55],[1.36,6.0],[1.391,6.23],[1.405,6.9],[1.455,7.01],[1.459,6.0],[1.51,6.69],[1.54,7.1],[1.564,7.1],[1.566,7.05],[1.599,6.83],[1.642,6.8],[1.627,7.56],[1.656,7.5],[1.666,7.42],[1.728,7.5],[1.76,7.25],[1.766,7.18],[1.853,7.84],[1.879,7.45],[1.904,7.74],[1.919,7.7],[1.967,7.5],[1.984,8.62],[1.995,7.84],[1.999,8.3],[2.006,8.33],[2.002,7.66],[1.97,8.14],[2.04,7.45],[2.046,8.52],[2.053,8.33],[2.057,7.95],[2.062,8.7],[2.065,8.26],[2.072,8.26],[2.075,8.11],[2.084,8.57],[2.086,8.11],[2.089,7.71],[2.091,8.26],[2.094,8.16],[2.101,8.3],[2.105,8.33],[2.111,8.52],[2.116,8.35],[2.12,8.72],[2.127,7.71],[2.127,7.61],[2.13,7.5],[2.133,8.5],[2.138,8.6],[2.145,8.18],[2.152,8.5],[2.159,8.3],[2.164,8.55],[2.167,8.74],[2.174,8.18],[2.181,8.91],[2.186,8.55],[2.193,8.87],[2.196,8.01],[2.2,8.62],[2.206,8.26],[2.213,9.13],[2.218,8.7],[2.225,8.57],[2.232,9.16],[2.235,8.67],[2.247,8.48]];
var as12Blue = [[0.931,5.84],[0.949,6.0],[1.055,5.71],[1.08,5.53],[1.197,6.23],[1.201,6.4],[1.223,6.23],[1.228,6.4],[1.28,6.55],[1.289,6.69],[1.311,6.52],[1.321,5.84],[1.325,6.75],[1.328,6.28],[1.34,6.23],[1.335,6.3],[1.397,6.55],[1.426,6.55],[1.508,6.4],[1.513,6.9],[1.623,6.96],[1.672,7.01],[1.7,7.1],[1.716,7.6],[1.719,7.25],[1.731,7.32],[1.748,7.11],[1.754,7.79],[1.776,7.67],[1.777,7.61],[1.785,7.79],[1.792,7.18],[1.798,7.39],[1.802,7.25],[1.809,7.43],[1.812,7.25],[1.846,7.74],[1.911,7.88],[1.944,7.56],[1.948,7.45],[1.963,7.32],[1.989,8.28],[1.999,8.06],[2.002,7.5],[2.028,8.43],[2.031,8.13],[2.035,8.11],[2.038,7.67],[2.04,7.87],[2.05,8.16],[2.054,7.99],[2.065,7.84],[2.079,7.84],[2.089,8.43],[2.098,7.84],[2.101,7.96],[2.108,7.84],[2.113,8.4],[2.123,7.45],[2.127,8.4],[2.135,7.96],[2.14,8.23],[2.148,8.7],[2.155,8.09],[2.159,8.4],[2.167,7.87],[2.171,8.48],[2.177,8.3],[2.181,8.62],[2.189,8.09],[2.193,8.4],[2.2,7.96],[2.203,8.55],[2.209,8.67],[2.213,8.16],[2.218,8.38],[2.222,8.5],[2.225,8.26],[2.229,8.84],[2.232,8.33],[2.24,8.91],[2.244,8.16],[2.247,8.6],[2.25,8.3],[2.254,8.94],[2.259,8.52],[2.261,8.87],[2.264,8.99],[2.269,8.74],[2.269,8.33],[2.273,8.02],[2.276,8.52],[2.279,9.18],[2.283,8.4],[2.288,8.84],[2.291,8.45],[2.294,9.27],[2.294,9.09],[2.298,8.35],[2.302,9.04],[2.305,8.33],[2.308,9.01],[2.313,8.7],[2.317,8.96],[2.323,8.67],[2.327,8.89],[2.331,8.55],[2.346,8.67],[2.352,8.6],[2.364,8.43],[2.371,8.67],[2.4,9.18],[2.419,9.42],[2.422,9.39]];

// ---- per-panel labels and axis values ----
var panelNames = ["AS1","AS2","AS3","AS4","AS5","AS6","AS7","AS8","AS9","AS10","AS11","AS12"];
var r2Values = ["0.860","0.885","8.68","0.886","0.879","0.866","0.850","0.888","0.899","0.806","0.869","0.875"];
var rmaSlope = [2.89, 1.95, 1.89, 2.29, 2.63, 1.84, 2.42, 2.03, 2.24, 3.21, 2.68, 2.47];
var rmaIntercept = [1.21, 3.26, 3.44, 2.08, 0.26, 3.82, 2.92, 3.48, 3.01, 0.36, 2.13, 3.02];
var xMin = [1.3, 0.75, 0.8, 1.4, 1.7, 0.5, 0.8, 0.8, 1.0, 1.3, 1.1, 0.9];
var xMax = [2.8, 3.0, 3.0, 3.0, 3.4, 2.75, 2.6, 2.8, 2.8, 2.8, 2.6, 2.5];
var xTicks = [
  [1.4,1.6,1.8,2,2.2,2.4,2.6,2.8],
  [1,1.5,2,2.5,3],
  [1,1.5,2,2.5,3],
  [1.4,1.6,1.8,2,2.2,2.4,2.6,2.8,3],
  [1.8,2,2.2,2.4,2.6,2.8,3,3.2,3.4],
  [0.5,1,1.5,2,2.5],
  [0.8,1,1.2,1.4,1.6,1.8,2,2.2,2.4,2.6],
  [1,1.5,2,2.5],
  [1,1.2,1.4,1.6,1.8,2,2.2,2.4,2.6,2.8],
  [1.4,1.6,1.8,2,2.2,2.4,2.6,2.8],
  [1.2,1.4,1.6,1.8,2,2.2,2.4,2.6],
  [1,1.2,1.4,1.6,1.8,2,2.2,2.4]
];
var xMinorStep = [0.1, 0.125, 0.1, 0.1, 0.1, 0.125, 0.1, 0.1, 0.1, 0.1, 0.1, 0.1];
var yTicks = [5.5, 6, 6.5, 7, 7.5, 8, 8.5, 9, 9.5];
var yMinorStep = 0.25;

var redSets = [as1Red, as2Red, as3Red, as4Red, as5Red, as6Red, as7Red, as8Red, as9Red, as10Red, as11Red, as12Red];
var blueSets = [as1Blue, as2Blue, as3Blue, as4Blue, as5Blue, as6Blue, as7Blue, as8Blue, as9Blue, as10Blue, as11Blue, as12Blue];

// ---- layout: plot area [left, top, width, height] in page pixels ----
var plotBox = [
  [61,12,364,275],[472,12,365,275],[878,12,364,275],
  [60,348,364,274],[467,348,365,274],[878,348,364,274],
  [61,683,365,274],[472,683,365,274],[874,683,365,274],
  [60,1020,365,273],[470,1020,364,273],[878,1020,365,273]
];
var titleDx = [9,7,10,8,8,6,10,11,11,9,11,12];
var textDx = [12,13,15,14,16,14,15,16,12,9,18,12];

var FONT = '"Liberation Sans", Arial, Helvetica, sans-serif';
var RED = "#c8262e", BLUE = "#2763bd", GREEN = "#21993f";
var TEXT = "#1e1e1e", FRAME = "#a6a6a6", TICK = "#8a8a8a", PANEL_BG = "#f1f1ec";

function fmt(v) { return String(Math.round(v * 1000) / 1000); }

var panelPlugin = {
  id: "panelDecor",
  beforeDraw: function(chart) {
    var c = chart.ctx, a = chart.chartArea;
    c.save();
    c.fillStyle = PANEL_BG;
    c.fillRect(a.left - 33, a.top - 7, a.right - a.left + 40, a.bottom - a.top + 28);
    c.fillStyle = "#ffffff";
    c.fillRect(a.left, a.top, a.right - a.left, a.bottom - a.top);
    c.restore();
  },
  afterDraw: function(chart) {
    var c = chart.ctx, a = chart.chartArea, i = chart.options.panelIndex;
    var xs = chart.scales.x, ys = chart.scales.y;
    c.save();
    // frame
    c.strokeStyle = FRAME; c.lineWidth = 1;
    c.strokeRect(Math.round(a.left) + 0.5, Math.round(a.top) + 0.5,
                 Math.round(a.right - a.left) - 1, Math.round(a.bottom - a.top) - 1);
    // minor ticks
    c.strokeStyle = TICK;
    c.beginPath();
    var st = xMinorStep[i];
    for (var v = Math.ceil(xMin[i] / st - 1e-6) * st; v <= xMax[i] + 1e-6; v += st) {
      var px = Math.round(xs.getPixelForValue(v)) + 0.5;
      c.moveTo(px, a.bottom); c.lineTo(px, a.bottom + 3);
    }
    for (var w = 5.5; w <= 9.5 + 1e-6; w += yMinorStep) {
      var py = Math.round(ys.getPixelForValue(w)) + 0.5;
      c.moveTo(a.left, py); c.lineTo(a.left - 3, py);
    }
    c.stroke();
    // panel texts
    c.fillStyle = TEXT;
    c.textBaseline = "alphabetic";
    c.textAlign = "left";
    c.font = "23px " + FONT;
    c.fillText(panelNames[i], a.left + titleDx[i], a.top + 25);
    var tx = a.left + textDx[i], ty = a.top + 50;
    c.font = "16.5px " + FONT;
    var part1 = "adjusted R";
    c.fillText(part1, tx, ty);
    tx += c.measureText(part1).width;
    c.font = "10.5px " + FONT;
    c.fillText("2", tx + 0.5, ty - 6.5);
    tx += c.measureText("2").width + 0.5;
    c.font = "16.5px " + FONT;
    c.fillText(" of LSA: " + r2Values[i], tx, ty);
    c.fillText("RMA axis: Y = " + rmaSlope[i].toFixed(2) + "X + " + rmaIntercept[i].toFixed(2),
               a.left + textDx[i], a.top + 74);
    c.restore();
  }
};

var page = document.getElementById("page");
var PAD_TOP = 12, PAD_RIGHT = 14, Y_W = 61, X_H = 43;

function makePanel(i) {
  var box = plotBox[i];
  var w = Y_W + box[2] + PAD_RIGHT, h = PAD_TOP + box[3] + X_H;
  var cv = document.createElement("canvas");
  cv.width = w; cv.height = h;
  cv.style.width = w + "px"; cv.style.height = h + "px";
  cv.style.left = (box[0] - Y_W) + "px";
  cv.style.top = (box[1] - PAD_TOP) + "px";
  page.appendChild(cv);

  // RMA axis drawn from its equation, from the bottom of the plot to the right edge
  var a = rmaSlope[i], b = rmaIntercept[i];
  var x0 = Math.max(xMin[i], (5.5 - b) / a);
  var linePts = [[x0, a * x0 + b], [xMax[i], a * xMax[i] + b]];

  new Chart(cv, {
    type: "scatter",
    data: {
      datasets: [
        { type: "line", data: linePts, borderColor: GREEN, borderWidth: 2.4,
          pointRadius: 0, fill: false, tension: 0 },
        { data: redSets[i], backgroundColor: RED, borderWidth: 0, pointRadius: 2.7 },
        { data: blueSets[i], backgroundColor: BLUE, borderWidth: 0, pointRadius: 2.7 }
      ]
    },
    options: {
      panelIndex: i,
      responsive: false,
      animation: false,
      devicePixelRatio: 1,
      layout: { padding: { top: PAD_TOP, right: PAD_RIGHT, left: 0, bottom: 0 } },
      plugins: { legend: { display: false }, tooltip: { enabled: false } },
      scales: {
        x: {
          type: "linear", min: xMin[i], max: xMax[i],
          afterBuildTicks: function(s) { s.ticks = xTicks[i].map(function(v) { return { value: v }; }); },
          afterFit: function(s) { s.height = X_H; },
          ticks: { autoSkip: false, maxRotation: 0, padding: 3, color: TEXT,
                   font: { family: FONT, size: 12 }, callback: fmt },
          grid: { drawOnChartArea: false, tickLength: 6, color: TICK },
          border: { display: false },
          title: { display: true, text: "log " + panelNames[i], color: TEXT,
                   font: { family: FONT, size: 16 }, padding: { top: 0, bottom: 2 } }
        },
        y: {
          type: "linear", min: 5.5, max: 9.5,
          afterBuildTicks: function(s) { s.ticks = yTicks.map(function(v) { return { value: v }; }); },
          afterFit: function(s) { s.width = Y_W; },
          ticks: { padding: 4, color: TEXT, font: { family: FONT, size: 12 }, callback: fmt },
          grid: { drawOnChartArea: false, tickLength: 6, color: TICK },
          border: { display: false },
          title: { display: i % 3 === 0, text: "log BM", color: TEXT,
                   font: { family: FONT, size: 16 }, padding: { top: 8, bottom: 0 } }
        }
      }
    },
    plugins: [panelPlugin]
  });
}

for (var k = 0; k < 12; k++) makePanel(k);
</script>
</body>
</html>
